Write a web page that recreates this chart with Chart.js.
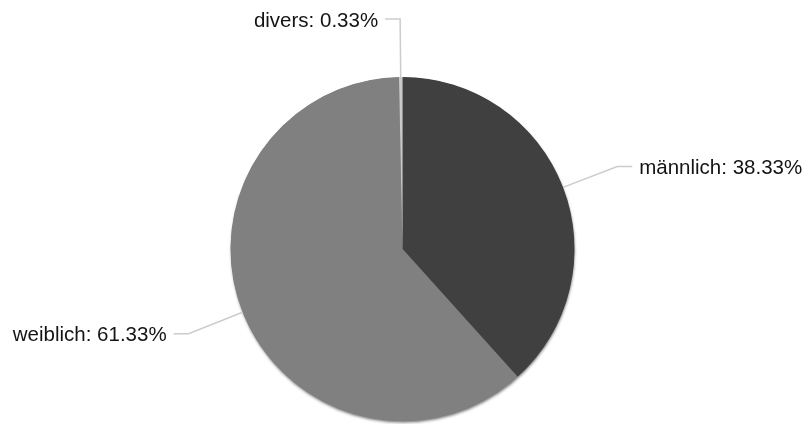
<!DOCTYPE html>
<html>
<head>
<meta charset="utf-8">
<script src="https://cdn.jsdelivr.net/npm/chart.js@4/dist/chart.umd.min.js"></script>
<style>
  html, body { margin: 0; padding: 0; background: #fff; }
  #wrap { width: 812px; height: 424px; }
</style>
</head>
<body>
<div id="wrap"><canvas id="pieChart"></canvas></div>
<script>
// data
const labels = ['männlich', 'weiblich', 'divers'];
const values = [38.33, 61.33, 0.33];
const colors = ['#404040', '#808080', '#c9c9c9'];

// soft shadow under the pie
const shadowPlugin = {
    id: 'pieShadow',
    beforeDatasetsDraw(chart) {
        const arc = chart.getDatasetMeta(0).data[0];
        if (!arc) return;
        const p = arc.getProps(['x', 'y', 'outerRadius'], true);
        const ctx = chart.ctx;
        ctx.save();
        ctx.shadowColor = 'rgba(0,0,0,0.55)';
        ctx.shadowBlur = 3;
        ctx.shadowOffsetY = 2;
        ctx.shadowOffsetX = 0.5;
        ctx.beginPath();
        ctx.arc(p.x, p.y, p.outerRadius - 0.5, 0, Math.PI * 2);
        ctx.fillStyle = '#666';
        ctx.fill();
        ctx.restore();
    }
};

// labels with leader lines
const leaderPlugin = {
    id: 'leaders',
    afterDatasetsDraw(chart) {
        const ctx = chart.ctx;
        const meta = chart.getDatasetMeta(0);
        meta.data.forEach(function(arc, i) {
            const p = arc.getProps(['x', 'y', 'startAngle', 'endAngle', 'outerRadius'], true);
            const mid = (p.startAngle + p.endAngle) / 2;
            const cos = Math.cos(mid), sin = Math.sin(mid);
            const x0 = p.x + p.outerRadius * cos;
            const y0 = p.y + p.outerRadius * sin;
            const x1 = p.x + (p.outerRadius + 58) * cos;
            const y1 = p.y + (p.outerRadius + 58) * sin;
            const dir = cos >= 0 ? 1 : -1;
            const x2 = x1 + dir * 15;

            ctx.save();
            ctx.strokeStyle = '#cccccc';
            ctx.lineWidth = 1.5;
            ctx.beginPath();
            ctx.moveTo(x0, y0);
            ctx.lineTo(x1, y1);
            ctx.lineTo(x2, y1);
            ctx.stroke();

            ctx.fillStyle = '#141414';
            ctx.font = '20.5px "Liberation Sans", Arial, sans-serif';
            ctx.textBaseline = 'middle';
            ctx.textAlign = dir > 0 ? 'left' : 'right';
            const txt = labels[i] + ': ' + values[i].toFixed(2) + '%';
            ctx.fillText(txt, x2 + dir * 7, y1 + 2);
            ctx.restore();
        });
    }
};

new Chart(document.getElementById('pieChart'), {
    type: 'pie',
    data: {
        labels: labels,
        datasets: [{
            data: values,
            backgroundColor: colors,
            borderWidth: 0
        }]
    },
    options: {
        responsive: true,
        maintainAspectRatio: false,
        animation: false,
        layout: { padding: { top: 77, bottom: 3, left: 0, right: 7 } },
        plugins: {
            legend: { display: false },
            tooltip: { enabled: false }
        }
    },
    plugins: [shadowPlugin, leaderPlugin]
});
</script>
</body>
</html>
